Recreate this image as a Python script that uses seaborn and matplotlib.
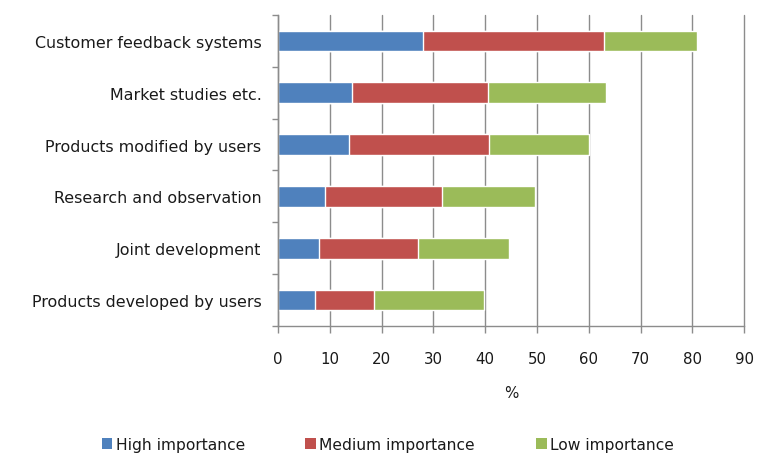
import matplotlib
matplotlib.use("Agg")
import matplotlib.pyplot as plt
import seaborn as sns
import pandas as pd
import numpy as np
from matplotlib.patches import Patch
from matplotlib.ticker import MultipleLocator, FixedLocator

categories = ["Customer feedback systems", "Market studies etc.", "Products modified by users",
              "Research and observation", "Joint development", "Products developed by users"]
high = [28.0, 14.2, 13.6, 9.0, 7.8, 7.1]
medium = [35.0, 26.3, 27.2, 22.7, 19.3, 11.4]
low = [18.0, 22.9, 19.3, 18.0, 17.4, 21.2]
series_names = ["High importance", "Medium importance", "Low importance"]
colors = ["#4F81BD", "#C0504D", "#9BBB59"]

sns.set_theme(style="white")
plt.rcParams['font.family'] = ['DejaVu Sans']

df = pd.DataFrame({"cat": categories, "high": high, "medium": medium, "low": low})
df["c1"] = df["high"]
df["c2"] = df["high"] + df["medium"]
df["c3"] = df["c2"] + df["low"]

fig = plt.figure(figsize=(7.6, 4.56), dpi=100)
ax = fig.add_axes([0.366, 0.283, 0.613, 0.682])

for col, color in zip(["c3", "c2", "c1"], colors[::-1]):
    sns.barplot(data=df, x=col, y="cat", orient="h", color=color, width=0.4,
                saturation=1, ax=ax, order=categories)

ax.set_xlim(0, 90)
ax.set_ylim(5.5, -0.5)
ax.xaxis.set_major_locator(MultipleLocator(10))
ax.grid(axis="x", color="#8c8c8c", linewidth=1.0)
ax.grid(axis="y", visible=False)
ax.set_axisbelow(True)
for line in ax.get_xgridlines():
    line.set_clip_on(False)
for s in ["top", "right"]:
    ax.spines[s].set_visible(False)
for s in ["left", "bottom"]:
    ax.spines[s].set_color("#8c8c8c")
    ax.spines[s].set_linewidth(1.0)

ax.yaxis.set_minor_locator(FixedLocator(np.arange(-0.5, 6.0, 1.0)))
ax.tick_params(axis="y", which="major", left=False, length=0, pad=12, labelsize=11.4,
               labelcolor="#1a1a1a")
ax.tick_params(axis="y", which="minor", left=True, length=4, color="#8c8c8c", width=1,
               direction="out")
ax.tick_params(axis="x", which="major", bottom=True, length=5, color="#8c8c8c", width=1,
               direction="out", labelsize=10.8, labelcolor="#1a1a1a", pad=13)
ax.set_ylabel("")
ax.set_xlabel("%", fontsize=10.8, color="#1a1a1a", labelpad=14)

handles = [Patch(facecolor=c, edgecolor="none") for c in colors]
fig.legend(handles, series_names, loc="center", bbox_to_anchor=(0.51, 0.024), ncol=3,
           frameon=False, fontsize=11.2, handlelength=0.7, handleheight=0.7,
           handletextpad=0.2, columnspacing=3.9, labelcolor="#1a1a1a")

fig.savefig("out.png", dpi=100)
